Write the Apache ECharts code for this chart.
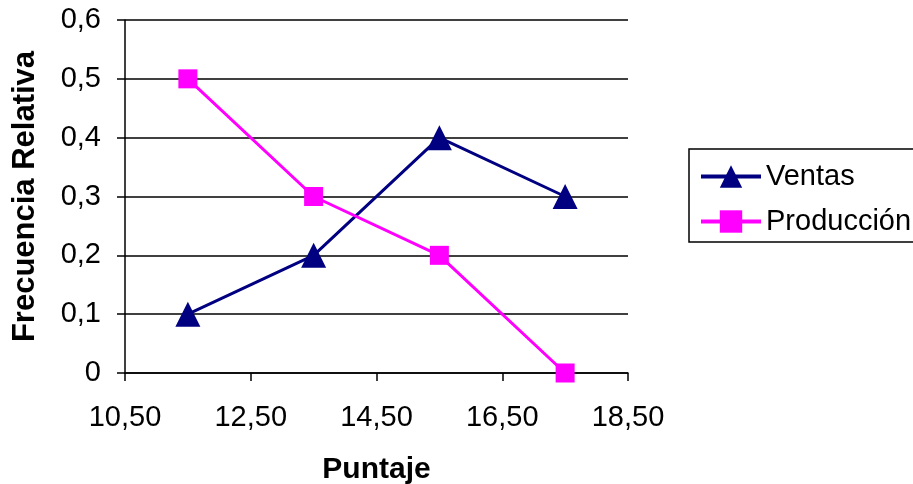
<!DOCTYPE html>
<html>
<head>
<meta charset="utf-8">
<script src="https://cdn.jsdelivr.net/npm/echarts@6/dist/echarts.min.js"></script>
<style>
html,body{margin:0;padding:0;background:#fff;overflow:hidden;width:913px;height:484px;}
#chart{width:950px;height:484px;}
</style>
</head>
<body>
<div id="chart"></div>
<script>
const xValues = [11.5, 13.5, 15.5, 17.5];
const ventas = [0.1, 0.2, 0.4, 0.3];
const produccion = [0.5, 0.3, 0.2, 0.0];
const xTicks = [10.5, 12.5, 14.5, 16.5, 18.5];
const seriesNames = ['Ventas', 'Producción'];

const FONT = '"Liberation Sans", Arial, sans-serif';
const fmt = (v, d) => v.toFixed(d).replace('.', ',');

const chart = echarts.init(document.getElementById('chart'));
chart.setOption({
  backgroundColor: '#fff',
  animation: false,
  grid: { left: 125, right: 322, top: 20, bottom: 111, outerBoundsMode: 'none', containLabel: false },
  legend: {
    orient: 'vertical',
    left: 689, top: 149,
    data: seriesNames,
    backgroundColor: '#fff',
    borderColor: '#000', borderWidth: 1.5, borderRadius: 0,
    padding: [13, 10, 6, 10],
    itemWidth: 60, itemHeight: 28, itemGap: 16,
    lineStyle: { width: 4 },
    textStyle: { fontFamily: FONT, fontSize: 29, color: '#000', lineHeight: 28, width: 170, overflow: 'none' }
  },
  xAxis: {
    type: 'value', min: 10.5, max: 18.5,
    name: 'Puntaje', nameLocation: 'middle', nameGap: 82,
    nameTextStyle: { fontFamily: FONT, fontSize: 30, fontWeight: 'bold', color: '#000' },
    axisLine: { show: true, onZero: false, lineStyle: { color: '#000', width: 1.5 } },
    axisTick: { show: true, length: 8, customValues: xTicks, lineStyle: { color: '#000', width: 1.5 } },
    axisLabel: { customValues: xTicks, margin: 30, fontFamily: FONT, fontSize: 29, color: '#000', formatter: v => fmt(v, 2) },
    splitLine: { show: false }
  },
  yAxis: {
    type: 'value', min: 0, max: 0.6, interval: 0.1,
    name: 'Frecuencia Relativa', nameLocation: 'middle', nameGap: 84, nameRotate: 90,
    nameTextStyle: { fontFamily: FONT, fontSize: 31, fontWeight: 'bold', color: '#000' },
    axisLine: { show: true, lineStyle: { color: '#000', width: 1.5 } },
    axisTick: { show: true, length: 8, lineStyle: { color: '#000', width: 1.5 } },
    axisLabel: { margin: 24, fontFamily: FONT, fontSize: 29, color: '#000', formatter: v => v === 0 ? '0' : fmt(v, 1) },
    splitLine: { show: true, lineStyle: { color: '#000', width: 1.5 } }
  },
  series: [
    {
      name: seriesNames[0], type: 'line',
      data: xValues.map((x, i) => [x, ventas[i]]),
      symbol: 'triangle', symbolSize: 25,
      lineStyle: { color: '#000080', width: 3 },
      itemStyle: { color: '#000080' }
    },
    {
      name: seriesNames[1], type: 'line',
      data: xValues.map((x, i) => [x, produccion[i]]),
      symbol: 'rect', symbolSize: 19,
      lineStyle: { color: '#FF00FF', width: 3 },
      itemStyle: { color: '#FF00FF' }
    }
  ]
});
</script>
</body>
</html>
